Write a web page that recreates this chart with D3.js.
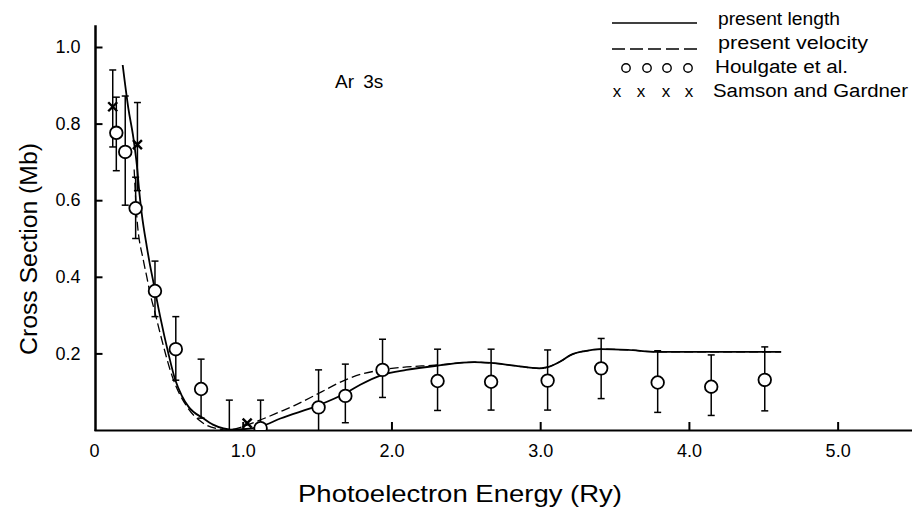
<!DOCTYPE html>
<html>
<head>
<meta charset="utf-8">
<script src="https://cdn.jsdelivr.net/npm/d3@7"></script>
<style>
  html, body { margin: 0; padding: 0; background: #fff; }
  svg { display: block; font-family: "Liberation Sans", Arial, Helvetica, sans-serif; }
</style>
</head>
<body>
<svg id="chart" width="912" height="510"></svg>
<script>
// ---- data ----
const lengthE = [0.193, 0.231, 0.265, 0.288, 0.305, 0.321, 0.355, 0.377, 0.40, 0.445, 0.50, 0.546, 0.59, 0.635, 0.737, 0.80, 0.871, 0.92, 1.00, 1.12, 1.253, 1.512, 1.691, 1.79, 1.938, 2.10, 2.309, 2.556, 2.668, 2.826, 2.994, 3.05, 3.14, 3.207, 3.30, 3.41, 3.59, 3.79, 4.15, 4.62];
const lengthV = [0.953, 0.84, 0.762, 0.692, 0.62, 0.565, 0.479, 0.43, 0.385, 0.296, 0.20, 0.131, 0.09, 0.061, 0.030, 0.014, 0.004, 0.001, 0.002, 0.009, 0.030, 0.065, 0.096, 0.118, 0.144, 0.157, 0.168, 0.177, 0.175, 0.168, 0.161, 0.164, 0.18, 0.196, 0.206, 0.211, 0.209, 0.204, 0.204, 0.204];

const velocityE = [0.27, 0.288, 0.332, 0.355, 0.377, 0.411, 0.445, 0.534, 0.625, 0.737, 0.849, 0.88, 0.95, 1.029, 1.253, 1.343, 1.512, 1.691, 1.79, 1.938, 2.309, 2.556, 2.668, 2.826, 2.994, 3.05, 3.14, 3.207, 3.30, 3.41, 3.59, 3.79, 4.15, 4.62];
const velocityV = [0.68, 0.557, 0.443, 0.40, 0.357, 0.305, 0.252, 0.131, 0.061, 0.017, 0.002, 0.0, 0.003, 0.013, 0.048, 0.063, 0.096, 0.131, 0.145, 0.157, 0.170, 0.177, 0.175, 0.168, 0.161, 0.164, 0.18, 0.196, 0.206, 0.211, 0.209, 0.204, 0.204, 0.204];

const houlgateE  = [0.15, 0.21, 0.28, 0.41, 0.55, 0.72, 0.91, 1.12, 1.51, 1.69, 1.94, 2.31, 2.67, 3.05, 3.41, 3.79, 4.15, 4.51];
const houlgateV  = [0.776, 0.726, 0.579, 0.363, 0.211, 0.107, -0.03, 0.005, 0.059, 0.089, 0.157, 0.128, 0.126, 0.129, 0.161, 0.124, 0.113, 0.131];
const houlgateLo = [0.677, 0.587, 0.50, 0.296, 0.13, 0.031, 0.0, 0.0, 0.0, 0.019, 0.085, 0.051, 0.052, 0.052, 0.082, 0.046, 0.038, 0.050];
const houlgateHi = [0.869, 0.872, 0.66, 0.441, 0.296, 0.185, 0.078, 0.078, 0.157, 0.172, 0.237, 0.211, 0.211, 0.209, 0.239, 0.207, 0.196, 0.217];

const samsonE  = [0.126, 0.292, 1.03];
const samsonV  = [0.844, 0.745, 0.018];
const samsonLo = [0.739, 0.625, 0.018];
const samsonHi = [0.94, 0.855, 0.018];

const xTicks = [0, 1, 2, 3, 4, 5];
const xTickLabels = ["0", "1.0", "2.0", "3.0", "4.0", "5.0"];
const yTicks = [0.2, 0.4, 0.6, 0.8, 1.0];
const yTickLabels = ["0.2", "0.4", "0.6", "0.8", "1.0"];

const legendLabels = ["present length", "present velocity", "Houlgate et al.", "Samson and Gardner"];

// ---- drawing ----
const svg = d3.select("#chart");
const x = d3.scaleLinear().domain([0, 5.5]).range([94, 912]);
const y = d3.scaleLinear().domain([0, 1]).range([430, 47]);

svg.append("defs").append("clipPath").attr("id", "plotclip")
  .append("rect").attr("x", 94).attr("y", 0).attr("width", 818).attr("height", 430);

// axes
const xAxis = d3.axisBottom(x).tickValues(xTicks).tickSizeInner(-8).tickSizeOuter(0).tickPadding(14)
  .tickFormat((d, i) => xTickLabels[i]);
const gx = svg.append("g").attr("transform", `translate(0,${y(0)})`).call(xAxis);
gx.select(".domain").attr("stroke", "#000").attr("stroke-width", 2);
gx.selectAll(".tick line").attr("stroke", "#000").attr("stroke-width", 2);
gx.selectAll(".tick").filter(d => d === 0).select("line").remove();
gx.selectAll(".tick text").attr("font-size", 18).attr("fill", "#000")
  .attr("font-family", "'Liberation Sans', Arial, sans-serif");

const yAxis = d3.axisLeft(y).tickValues(yTicks).tickSizeInner(-7).tickSizeOuter(0).tickPadding(15)
  .tickFormat((d, i) => yTickLabels[i]);
const gy = svg.append("g").attr("transform", `translate(${x(0) + 1.5},0)`).call(yAxis);
gy.select(".domain").remove();
gy.selectAll(".tick line").attr("stroke", "#000").attr("stroke-width", 2);
gy.selectAll(".tick text").attr("font-size", 18).attr("fill", "#000")
  .attr("font-family", "'Liberation Sans', Arial, sans-serif");
svg.append("line").attr("x1", x(0) + 1.5).attr("x2", x(0) + 1.5)
  .attr("y1", y(0) + 1).attr("y2", y(1.057)).attr("stroke", "#000").attr("stroke-width", 2.5);

// axis titles
svg.append("text").attr("x", 460).attr("y", 502).attr("text-anchor", "middle")
  .attr("font-size", 24).attr("fill", "#000")
  .attr("textLength", 324).attr("lengthAdjust", "spacingAndGlyphs").text("Photoelectron Energy (Ry)");
svg.append("text").attr("transform", "translate(37,249) rotate(-90)").attr("text-anchor", "middle")
  .attr("font-size", 23).attr("fill", "#000")
  .attr("textLength", 212).attr("lengthAdjust", "spacingAndGlyphs").text("Cross Section (Mb)");

// annotation
svg.append("text").attr("x", 335).attr("y", 88).attr("font-size", 19).attr("fill", "#000")
  .attr("word-spacing", 4).text("Ar 3s");

const plot = svg.append("g").attr("clip-path", "url(#plotclip)");

// curves
const line = d3.line().x(d => x(d[0])).y(d => y(d[1])).curve(d3.curveMonotoneX);
plot.append("path").datum(d3.zip(velocityE, velocityV)).attr("d", line)
  .attr("fill", "none").attr("stroke", "#000").attr("stroke-width", 1.3).attr("stroke-dasharray", "9,4");
plot.append("path").datum(d3.zip(lengthE, lengthV)).attr("d", line)
  .attr("fill", "none").attr("stroke", "#000").attr("stroke-width", 1.8);

// error bars
function errBars(E, lo, hi) {
  const g = plot.append("g").attr("stroke", "#000").attr("stroke-width", 1.5);
  E.forEach((e, i) => {
    if (hi[i] === lo[i]) return;
    const cx = x(e);
    g.append("line").attr("x1", cx).attr("x2", cx).attr("y1", y(lo[i])).attr("y2", y(hi[i]));
    g.append("line").attr("x1", cx - 3.5).attr("x2", cx + 3.5).attr("y1", y(hi[i])).attr("y2", y(hi[i]));
    if (lo[i] > 0) g.append("line").attr("x1", cx - 3.5).attr("x2", cx + 3.5).attr("y1", y(lo[i])).attr("y2", y(lo[i]));
  });
}
errBars(houlgateE, houlgateLo, houlgateHi);
errBars(samsonE, samsonLo, samsonHi);

// Houlgate circles
plot.append("g").selectAll("circle").data(d3.zip(houlgateE, houlgateV)).join("circle")
  .attr("cx", d => x(d[0])).attr("cy", d => y(d[1])).attr("r", 6.3)
  .attr("fill", "#fff").attr("stroke", "#000").attr("stroke-width", 1.8);

// Samson crosses
const sg = plot.append("g").attr("stroke", "#000").attr("stroke-width", 2.4);
d3.zip(samsonE, samsonV).forEach(d => {
  const cx = x(d[0]), cy = y(d[1]), s = 4.5;
  sg.append("line").attr("x1", cx - s).attr("x2", cx + s).attr("y1", cy - s).attr("y2", cy + s);
  sg.append("line").attr("x1", cx - s).attr("x2", cx + s).attr("y1", cy + s).attr("y2", cy - s);
});

// legend
const lg = svg.append("g");
const lx0 = 612, lx1 = 697;
const rows = [25, 49, 73, 97];
const rowX = [718, 718, 715, 713];
const rowLen = [122, 150, 133, 195];
lg.append("line").attr("x1", lx0).attr("x2", lx1).attr("y1", 23).attr("y2", 23)
  .attr("stroke", "#000").attr("stroke-width", 1.5);
lg.append("line").attr("x1", lx0).attr("x2", lx1).attr("y1", 49).attr("y2", 49)
  .attr("stroke", "#000").attr("stroke-width", 1.5).attr("stroke-dasharray", "13,5");
[626, 647, 667, 688].forEach(cx => lg.append("circle").attr("cx", cx).attr("cy", 68)
  .attr("r", 4.2).attr("fill", "none").attr("stroke", "#000").attr("stroke-width", 1.4));
[617, 641, 666, 689].forEach(cx => lg.append("text").attr("x", cx).attr("y", 97)
  .attr("text-anchor", "middle").attr("font-size", 17).attr("fill", "#000").text("x"));
legendLabels.forEach((t, i) => lg.append("text").attr("x", rowX[i]).attr("y", rows[i])
  .attr("font-size", 18).attr("fill", "#000")
  .attr("textLength", rowLen[i]).attr("lengthAdjust", "spacingAndGlyphs").text(t));
</script>
</body>
</html>
